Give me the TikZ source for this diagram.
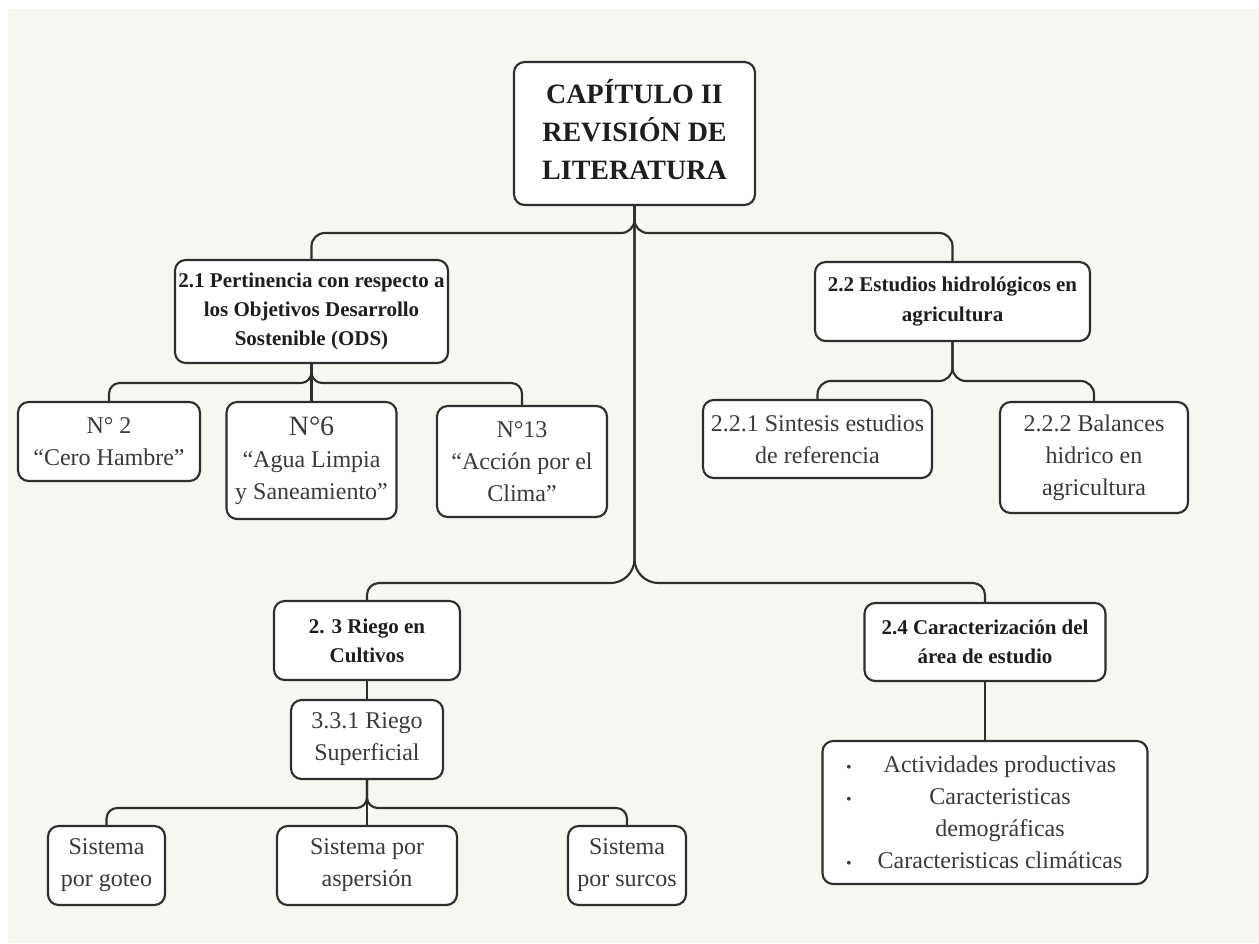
\documentclass[tikz,border=0pt]{standalone}
\usepackage{fontspec}
\setmainfont{Liberation Serif}
\usetikzlibrary{calc}
\definecolor{bg}{HTML}{F7F7F2}
\definecolor{ln}{HTML}{2E2E2E}
\definecolor{txb}{HTML}{1E1E1E}
\definecolor{txr}{HTML}{3A3A3A}
\begin{document}
\begin{tikzpicture}[x=0.75pt,y=-0.75pt,
  box/.style={draw=ln, line width=1.6pt, fill=white, rounded corners=8pt, align=center, inner sep=1pt},
  bsz/.style 2 args={minimum width=#1*0.75pt, minimum height=#2*0.75pt},
  ttl/.style={font=\fontsize{21pt}{28.5pt}\selectfont\bfseries, text=txb},
  hd/.style={font=\fontsize{15.75pt}{22pt}\selectfont\bfseries, text=txb},
  rg/.style={font=\fontsize{18pt}{24pt}\selectfont, text=txr},
  conn/.style={draw=ln, line width=1.6pt}]
\useasboundingbox (0,0) rectangle (1259,943);
\fill[bg] (8,9) rectangle (1259,943);

% nodes
\node[box, bsz={241}{143}, ttl] (top) at (634.5,133.5) {\raisebox{5pt}{\begin{tabular}{@{}c@{}}CAPÍTULO II\\REVISIÓN DE\\LITERATURA\end{tabular}}};
\node[box, bsz={273}{103}, hd] (n21) at (311.5,311.5) {2.1 Pertinencia con respecto a\\los Objetivos Desarrollo\\Sostenible (ODS)};
\node[box, bsz={275}{79}, hd] (n22) at (952.5,301.5) {2.2 Estudios hidrológicos en\\agricultura};
\node[box, bsz={182}{79}, rg] (N2) at (109,441.5) {N° 2\\“Cero Hambre”};
\node[box, bsz={170}{117}, rg] (N6) at (311.5,460.5) {{\fontsize{21pt}{26pt}\selectfont N°6}\\“Agua Limpia\\y Saneamiento”};
\node[box, bsz={170}{111}, rg] (N13) at (522,461.5) {N°13\\“Acción por el\\Clima”};
\node[box, bsz={229}{78}, rg] (n221) at (817.5,439) {2.2.1 Sintesis estudios\\de referencia};
\node[box, bsz={188}{111}, rg] (n222) at (1094,457.5) {2.2.2 Balances\\hidrico en\\agricultura};
\node[box, bsz={186}{79}, hd] (n23) at (367,640.5) {2. 3 Riego en\\Cultivos};
\node[box, bsz={152}{79}, rg] (n331) at (367,739.5) {3.3.1 Riego\\Superficial};
\node[box, bsz={241}{78}, hd] (n24) at (985,642) {2.4 Caracterización del\\área de estudio};
\node[box, bsz={325}{143}, rg] (bul) at (985,812.5) {%
\makebox[6pt]{\fontsize{12pt}{12pt}\selectfont •}\hspace{16.5pt}\makebox[187.5pt]{Actividades productivas}\\
\makebox[6pt]{\fontsize{12pt}{12pt}\selectfont •}\hspace{16.5pt}\makebox[187.5pt]{Caracteristicas}\\
\makebox[6pt]{}\hspace{16.5pt}\makebox[187.5pt]{demográficas}\\
\makebox[6pt]{\fontsize{12pt}{12pt}\selectfont •}\hspace{16.5pt}\makebox[187.5pt]{Caracteristicas climáticas}};
\node[box, bsz={117}{79}, rg] (s1) at (106.5,865.5) {Sistema\\por goteo};
\node[box, bsz={180}{79}, rg] (s2) at (367,865.5) {Sistema por\\aspersión};
\node[box, bsz={118}{79}, rg] (s3) at (627,865.5) {Sistema\\por surcos};

% bus levels
\coordinate (b1) at (0,233);
\coordinate (b2) at (0,383);
\coordinate (b3) at (0,381);
\coordinate (b4) at (0,583);
\coordinate (b5) at (0,808);

% top brace
\draw[conn, rounded corners=10pt] (top.south) -- (top.south |- b1) -- (n21.north |- b1) -- (n21.north);
\draw[conn, rounded corners=10pt] (top.south) -- (top.south |- b1) -- (n22.north |- b1) -- (n22.north);
% main stem and lower brace
\draw[conn] (top.south) -- ($(top.south |- b4)+(0,-24)$) to[out=-90,in=0] ($(top.south |- b4)+(-24,0)$)
  [rounded corners=9pt] -- (n23.north |- b4) -- (n23.north);
\draw[conn] (top.south) -- ($(top.south |- b4)+(0,-24)$) to[out=-90,in=180] ($(top.south |- b4)+(24,0)$)
  [rounded corners=9pt] -- (n24.north |- b4) -- (n24.north);
% 2.1 children
\draw[conn, rounded corners=8pt] (n21.south) -- (n21.south |- b2) -- (N2.north |- b2) -- (N2.north);
\draw[conn] (n21.south) -- (N6.north);
\draw[conn, rounded corners=8pt] (n21.south) -- (n21.south |- b2) -- (N13.north |- b2) -- (N13.north);
% 2.2 children
\draw[conn, rounded corners=10pt] (n22.south) -- (n22.south |- b3) -- (n221.north |- b3) -- (n221.north);
\draw[conn, rounded corners=10pt] (n22.south) -- (n22.south |- b3) -- (n222.north |- b3) -- (n222.north);
% 2.3 and 2.4
\draw[conn] (n23.south) -- (n331.north);
\draw[conn] (n24.south) -- (bul.north);
% 3.3.1 children
\draw[conn, rounded corners=8pt] (n331.south) -- (n331.south |- b5) -- (s1.north |- b5) -- (s1.north);
\draw[conn] (n331.south) -- (s2.north);
\draw[conn, rounded corners=8pt] (n331.south) -- (n331.south |- b5) -- (s3.north |- b5) -- (s3.north);
\end{tikzpicture}
\end{document}
